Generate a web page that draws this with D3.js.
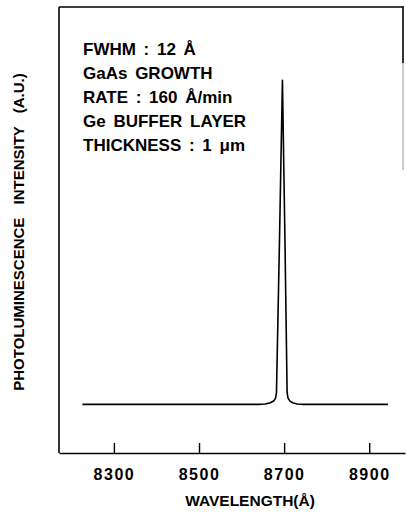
<!DOCTYPE html>
<html>
<head>
<meta charset="utf-8">
<script src="https://cdn.jsdelivr.net/npm/d3@7"></script>
<style>
    body { margin: 0; background: #fff; }
    svg text { font-family: "Liberation Sans", Arial, Helvetica, sans-serif; fill: #000; }
</style>
</head>
<body>
<div id="chart"></div>
<script>
//Datos
const wavelengths = [8226, 8640, 8655, 8668, 8676, 8680, 8682, 8689, 8696, 8702, 8707, 8709, 8713, 8720, 8730, 8745, 8944];
const intensities = [15, 15, 15.1, 15.5, 16.1, 17, 18.7, 65, 115, 65, 18.7, 17, 16.1, 15.5, 15.1, 15, 15];
const xTicks = [8300, 8500, 8700, 8900];
const notes = ['FWHM : 12 Å', 'GaAs GROWTH', 'RATE : 160 Å/min', 'Ge BUFFER LAYER', 'THICKNESS : 1 μm'];

let margin = {top: 7, right: 1, bottom: 61, left: 59},
    width = 406 - margin.left - margin.right,
    height = 514 - margin.top - margin.bottom;

let svg = d3.select('#chart')
    .append('svg')
        .attr('width', 406)
        .attr('height', 514)
    .append('g')
        .attr('transform', 'translate(' + margin.left + ',' + margin.top + ')');

let x = d3.scaleLinear()
    .domain([8171, 8984])
    .range([0, width]);

let y = d3.scaleLinear()
    .domain([0, 137.6])
    .range([height, 0]);

//Marco
svg.append('line').attr('x1', 0).attr('x2', 0).attr('y1', 0).attr('y2', height)
    .attr('stroke', '#000').attr('stroke-width', 1.6);
svg.append('line').attr('x1', 0).attr('x2', width - 2).attr('y1', 0).attr('y2', 0)
    .attr('stroke', '#000').attr('stroke-width', 1.6);
svg.append('line').attr('x1', width - 2).attr('x2', width - 2).attr('y1', -1).attr('y2', 56)
    .attr('stroke', '#000').attr('stroke-width', 1.6);
svg.append('line').attr('x1', width - 2).attr('x2', width - 2).attr('y1', 56).attr('y2', 163)
    .attr('stroke', '#999').attr('stroke-width', 1);

//Eje X
let xAxis = function(g) {
    g.call(d3.axisBottom(x).tickValues(xTicks).tickFormat(d3.format('d'))
        .tickSizeInner(-10).tickSizeOuter(0).tickPadding(16));
    g.select('.domain').attr('stroke-width', 1.6);
    g.selectAll('.tick line').attr('stroke-width', 1.4);
    g.selectAll('.tick text')
        .style('font-size', '16px')
        .style('font-weight', 'bold')
        .style('letter-spacing', '1.5px')
        .attr('dy', '0.71em');
}

svg.append('g')
    .attr('transform', 'translate(0,' + height + ')')
    .call(xAxis);

//Espectro
let line = d3.line()
    .x(function(d, i) { return x(wavelengths[i]); })
    .y(function(d) { return y(d); })
    .curve(d3.curveLinear);

svg.append('path')
    .datum(intensities)
    .attr('fill', 'none')
    .attr('stroke', '#000')
    .attr('stroke-width', 1.6)
    .attr('stroke-linejoin', 'round')
    .attr('d', line);

//Notas
svg.selectAll('.note')
    .data(notes)
    .enter()
    .append('text')
    .attr('class', 'note')
    .attr('x', 24)
    .attr('y', function(d, i) { return 47.5 + i * 24; })
    .style('font-size', '17px')
    .style('font-weight', 'bold')
    .style('word-spacing', '3px')
    .text(function(d) { return d; });

//Titulos de ejes
svg.append('text')
    .attr('x', x(8500) + 51)
    .attr('y', height + 53)
    .attr('text-anchor', 'middle')
    .style('font-size', '15.5px')
    .style('font-weight', 'bold')
    .text('WAVELENGTH(Å)');

svg.append('text')
    .attr('transform', 'translate(' + (-35) + ',' + 225 + ') rotate(-90)')
    .attr('text-anchor', 'middle')
    .style('font-size', '15px')
    .style('font-weight', 'bold')
    .style('word-spacing', '9px')
    .text('PHOTOLUMINESCENCE INTENSITY (A.U.)');
</script>
</body>
</html>
